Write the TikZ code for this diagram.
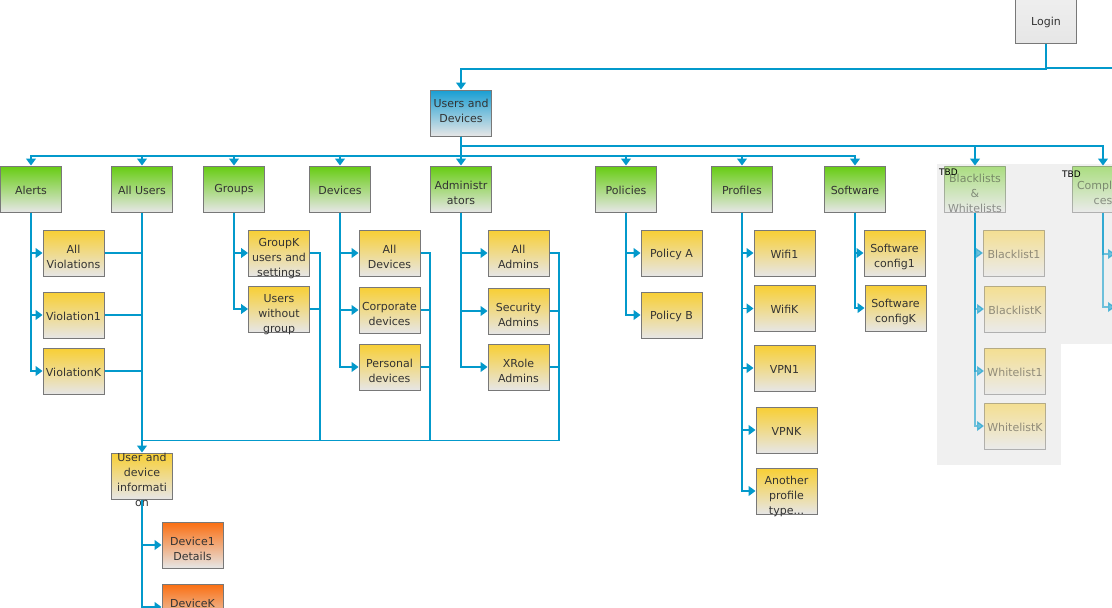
\documentclass[tikz,border=0pt]{standalone}
\usepackage{fontspec}
\setmainfont{DejaVu Sans}
\usetikzlibrary{arrows.meta}
\definecolor{conncol}{HTML}{0399CB}
\definecolor{boxborder}{HTML}{787878}
\definecolor{boxbot}{HTML}{E6E6E6}
\definecolor{greentop}{HTML}{66CC11}
\definecolor{yellowtop}{HTML}{F8CF33}
\definecolor{orangetop}{HTML}{FB6E10}
\definecolor{bluetop}{HTML}{189ED3}
\definecolor{graytop}{HTML}{EFEFEF}
\definecolor{txtcol}{HTML}{333333}
\definecolor{panelcol}{HTML}{F0F0F0}
\begin{document}
\begin{tikzpicture}[x=1pt,y=-1pt,
  box/.style={draw=boxborder, line width=1pt, minimum width=61pt, minimum height=46pt, inner sep=0pt, bottom color=boxbot},
  gbox/.style={box, top color=greentop},
  ybox/.style={box, top color=yellowtop},
  obox/.style={box, top color=orangetop},
  bbox/.style={box, top color=bluetop},
  lgbox/.style={box, top color=graytop},
  fade/.style={opacity=0.5},
  lbl/.style={align=center, font=\fontsize{11}{15}\selectfont, text=txtcol, inner sep=0pt},
  lab/.style={label={[lbl, yshift=-1pt]center:{#1}}},
  labm/.style={label={[lbl, yshift=-3.5pt]center:{#1}}},
  labt/.style={label={[lbl, yshift=-5.5pt]center:{#1}}},
  flab/.style={label={[lbl, yshift=-1pt, text opacity=0.5]center:{#1}}},
  flabm/.style={label={[lbl, yshift=-4pt, text opacity=0.5]center:{#1}}},
  tbd/.style={font=\fontsize{9}{10}\selectfont, text=black, inner sep=0pt, anchor=north west},
  line/.style={draw=conncol, line width=1.2pt},
  arr/.style={line, -{Triangle[width=10pt,length=7pt]}},
  farr/.style={arr, opacity=0.55},
]
\clip (0,0) rectangle (1112,608);
\fill[white] (0,0) rectangle (1112,608);

% TBD panels
\fill[panelcol] (937,164) rectangle (1061,465);
\fill[panelcol] (1061,164) rectangle (1114,344);

% bus coordinates
\coordinate (busU) at (0,146);
\coordinate (busL) at (0,156);
\coordinate (busB) at (0,440.5);
\coordinate (loginJ) at (1046,69);
\coordinate (loginR) at (1114,67.5);

% top
\node[lgbox, label={[lbl, yshift=-2pt]center:Login}] (login) at (1046,20) {};
\node[bbox, label={[lbl, yshift=2.5pt]center:{Users and\\Devices}}] (ud) at (461,113) {};

% level 1
\node[gbox, lab=Alerts] (alerts) at (31,189) {};
\node[gbox, lab=All Users] (allusers) at (142,189) {};
\node[gbox, lab=Groups] (groups) at (234,189) {};
\node[gbox, lab=Devices] (devices) at (340,189) {};
\node[gbox, labm={Administr\\ators}] (admins) at (461,189) {};
\node[gbox, lab=Policies] (policies) at (626,189) {};
\node[gbox, lab=Profiles] (profiles) at (742,189) {};
\node[gbox, lab=Software] (software) at (855,189) {};
\node[gbox, fade, flabm={Blacklists\\\&\\Whitelists}] (bw) at (975,189) {};
\node[gbox, fade, flabm={Complian\\ces}] (compl) at (1103,189) {};

% level 2
\node[ybox, labm={All\\Violations}] (vall) at (73.5,253) {};
\node[ybox, lab=Violation1] (v1) at (73.5,315) {};
\node[ybox, lab=ViolationK] (vk) at (73.5,371) {};
\node[ybox, labt={GroupK\\users and\\settings}] (gk) at (279,253) {};
\node[ybox, labt={Users\\without\\group}] (ng) at (279,309) {};
\node[ybox, labm={All\\Devices}] (adev) at (389.5,253) {};
\node[ybox, labm={Corporate\\devices}] (cdev) at (389.5,310) {};
\node[ybox, labm={Personal\\devices}] (pdev) at (389.5,367) {};
\node[ybox, labm={All\\Admins}] (aadm) at (518.5,253) {};
\node[ybox, labm={Security\\Admins}] (sadm) at (518.5,311) {};
\node[ybox, labm={XRole\\Admins}] (xadm) at (518.5,367) {};
\node[ybox, lab=Policy A] (pola) at (671.5,253) {};
\node[ybox, lab=Policy B] (polb) at (671.5,315) {};
\node[ybox, lab=Wifi1] (wifi1) at (784.5,253) {};
\node[ybox, lab=WifiK] (wifik) at (784.5,308.5) {};
\node[ybox, lab=VPN1] (vpn1) at (784.5,368) {};
\node[ybox, lab=VPNK] (vpnk) at (786.5,430) {};
\node[ybox, labt={Another\\profile\\type...}] (another) at (786.5,491) {};
\node[ybox, labm={Software\\config1}] (sw1) at (894.5,253) {};
\node[ybox, labm={Software\\configK}] (swk) at (895.5,308) {};
\node[ybox, fade, flab=Blacklist1] (bl1) at (1014,253) {};
\node[ybox, fade, flab=BlacklistK] (blk) at (1015,309) {};
\node[ybox, fade, flab=Whitelist1] (wl1) at (1015,371) {};
\node[ybox, fade, flab=WhitelistK] (wlk) at (1015,426) {};
\coordinate (cc1) at (1115,254);
\coordinate (cc2) at (1115,307);

% user info
\node[ybox, labm={User and\\device\\informati\\on}] (uinfo) at (142,476) {};
\node[obox, labm={Device1\\Details}] (dev1) at (192.5,545) {};
\node[obox, labm={DeviceK\\Details}] (devk) at (192.5,607) {};

% TBD labels
\node[tbd] (tbd1) at (939,169) {TBD};
\node[tbd] (tbd2) at (1062,171) {TBD};

% connectors top
\draw[arr] (login.south) -- (loginJ) -| (ud.north);
\draw[line, line width=2pt] (login.south |- loginR) -- (loginR);

\foreach \n in {alerts,allusers,groups,devices,policies,profiles,software}
  \draw[arr] (ud.south) |- (\n.north |- busL) -- (\n.north);
\draw[arr] (ud.south) -- (admins.north);
\foreach \n in {bw,compl}
  \draw[arr] (ud.south) |- (\n.north |- busU) -- (\n.north);

% children
\foreach \p/\c in {alerts/vall,alerts/v1,alerts/vk,groups/gk,groups/ng,devices/adev,devices/cdev,devices/pdev,admins/aadm,admins/sadm,admins/xadm,policies/pola,policies/polb,profiles/wifi1,profiles/wifik,profiles/vpn1,profiles/vpnk,profiles/another,software/sw1,software/swk,uinfo/dev1,uinfo/devk}
  \draw[arr] (\p.south) |- (\c.west);
\foreach \c in {bl1,blk,wl1,wlk}
  \draw[farr] (bw.south) |- (\c.west);
\draw[farr] (compl.south) |- (cc1);
\draw[farr] (compl.south) |- (cc2);

% links to user info
\draw[arr] (allusers.south) -- (uinfo.north);
\foreach \c in {vall,v1,vk}
  \draw[line] (\c.east) -- (allusers.south |- \c.east);
\draw[line] (gk.east) -- ++(10,0) |- (uinfo.north |- busB);
\draw[line] (ng.east) -- ++(10,0);
\draw[line] (adev.east) -- ++(9.5,0) |- (uinfo.north |- busB);
\draw[line] (cdev.east) -- ++(9.5,0);
\draw[line] (pdev.east) -- ++(9.5,0);
\draw[line] (aadm.east) -- ++(9.5,0) |- (uinfo.north |- busB);
\draw[line] (sadm.east) -- ++(9.5,0);
\draw[line] (xadm.east) -- ++(9.5,0);
\end{tikzpicture}
\end{document}
